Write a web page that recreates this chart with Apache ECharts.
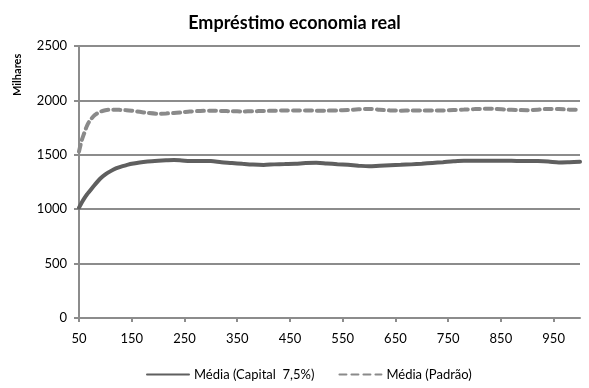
<!DOCTYPE html>
<html>
<head>
<meta charset="utf-8">
<script src="https://cdn.jsdelivr.net/npm/echarts@6/dist/echarts.min.js"></script>
<style>
  html, body { margin: 0; padding: 0; background: #fff; }
  #chart { width: 589px; height: 388px; }
</style>
</head>
<body>
<div id="chart"></div>
<script>
// Simulation step (x) and averages in thousands (y)
var steps = [50, 55, 60, 65, 70, 80, 90, 100, 110, 120, 130, 140, 150, 165, 180, 200, 215, 230, 245, 260,
  280, 300, 320, 340, 360, 380, 400, 420, 440, 460, 480, 500, 520, 540, 560, 580, 600, 620, 640, 660,
  680, 700, 720, 740, 760, 780, 800, 820, 840, 860, 880, 900, 920, 940, 960, 980, 1000];

var mediaCapital = [1015, 1060, 1100, 1135, 1165, 1225, 1280, 1320, 1350, 1375, 1392, 1405, 1418, 1430, 1438, 1445, 1449, 1452, 1448, 1443,
  1443, 1442, 1432, 1425, 1417, 1410, 1407, 1412, 1415, 1418, 1424, 1426, 1420, 1414, 1408, 1400, 1394, 1400, 1405, 1408,
  1412, 1418, 1425, 1432, 1440, 1445, 1445, 1445, 1445, 1445, 1444, 1443, 1442, 1438, 1430, 1432, 1435];

var mediaPadrao = [1530, 1630, 1700, 1765, 1810, 1865, 1895, 1910, 1915, 1915, 1912, 1910, 1905, 1895, 1885, 1878, 1880, 1884, 1890, 1897,
  1903, 1905, 1903, 1900, 1899, 1900, 1903, 1905, 1907, 1908, 1908, 1906, 1906, 1908, 1912, 1918, 1922, 1915, 1908, 1906,
  1908, 1908, 1908, 1908, 1912, 1916, 1920, 1923, 1922, 1916, 1912, 1910, 1915, 1922, 1920, 1915, 1914];

var xTickLabels = [50, 150, 250, 350, 450, 550, 650, 750, 850, 950];
var yTicks = { min: 0, max: 2500, interval: 500 };

var seriesNames = ['Média (Capital  7,5%)', 'Média (Padrão)'];

function pairs(xs, ys) {
  return xs.map(function (x, i) { return [x, ys[i]]; });
}

var font = 'Lato, Liberation Sans, sans-serif';
var chart = echarts.init(document.getElementById('chart'), null, { renderer: 'canvas' });

chart.setOption({
  backgroundColor: '#ffffff',
  animation: false,
  title: {
    text: 'Empréstimo economia real',
    left: 'center',
    top: 9,
    textStyle: { fontFamily: font, fontSize: 18, fontWeight: 'bold', color: '#000' }
  },
  graphic: [{
    type: 'text',
    x: 12,
    y: 96,
    rotation: Math.PI / 2,
    style: { text: 'Milhares', font: 'bold 11px ' + font, fill: '#000' }
  }],
  legend: {
    bottom: 2,
    left: 141,
    itemWidth: 42,
    itemHeight: 12,
    itemGap: 24,
    itemStyle: { opacity: 0 },
    textStyle: { fontFamily: font, fontSize: 13, color: '#000' },
    data: seriesNames
  },
  grid: { left: 79, right: 9, top: 46, bottom: 70, containLabel: false },
  xAxis: {
    type: 'value',
    min: 50,
    max: 1000,
    axisLine: { lineStyle: { color: '#8c8c8c', width: 2 } },
    axisTick: { show: true, length: 4, lineStyle: { color: '#8c8c8c', width: 2 }, customValues: xTickLabels },
    axisLabel: { customValues: xTickLabels, fontFamily: font, fontSize: 13, color: '#000', margin: 14 },
    splitLine: { show: false }
  },
  yAxis: {
    type: 'value',
    min: yTicks.min,
    max: yTicks.max,
    interval: yTicks.interval,
    axisLine: { show: true, lineStyle: { color: '#8c8c8c', width: 2 } },
    axisTick: { show: true, length: 5, lineStyle: { color: '#8c8c8c', width: 2 } },
    axisLabel: { fontFamily: font, fontSize: 13, color: '#000', margin: 12, formatter: function (v) { return String(v); } },
    splitLine: { show: true, lineStyle: { color: '#8c8c8c', width: 2 } }
  },
  series: [
    {
      name: seriesNames[0],
      type: 'line',
      data: pairs(steps, mediaCapital),
      smooth: 0.3,
      symbol: 'none',
      color: '#5f5f5f',
      lineStyle: { color: '#5f5f5f', width: 4, cap: 'round' },
      z: 3
    },
    {
      name: seriesNames[1],
      type: 'line',
      data: pairs(steps, mediaPadrao),
      smooth: 0.3,
      symbol: 'none',
      color: '#8a8a8a',
      lineStyle: { color: '#8a8a8a', width: 4, type: [7, 5], cap: 'round' },
      z: 2
    }
  ]
});
</script>
</body>
</html>
